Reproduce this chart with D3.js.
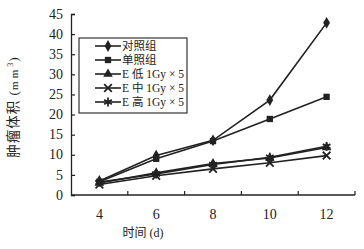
<!DOCTYPE html>
<html>
<head>
<meta charset="utf-8">
<script src="https://cdn.jsdelivr.net/npm/d3@7"></script>
<style>
  body { margin: 0; background: #fff; }
  svg { display: block; }
  text { font-family: "Liberation Serif", "Noto Sans CJK SC", serif; fill: #222; }
</style>
</head>
<body>
<div class="chart"></div>
<script>
// data
var days = [4, 6, 8, 10, 12];
var control = [3.5, 9.8, 13.6, 23.6, 42.8];
var single = [3.3, 9.0, 13.4, 18.9, 24.4];
var eLow = [3.0, 5.5, 7.8, 9.2, 11.8];
var eMid = [2.6, 4.8, 6.5, 8.0, 9.8];
var eHigh = [3.2, 5.2, 7.6, 9.4, 12.1];
var seriesNames = ["对照组", "单照组", "E 低 1Gy × 5", "E 中 1Gy × 5", "E 高 1Gy × 5"];
var yTicks = [0, 5, 10, 15, 20, 25, 30, 35, 40, 45];

var width = 364, height = 249;
var margin = { top: 14, right: 9, bottom: 54, left: 71 };

var svg = d3.select(".chart").append("svg")
    .attr("width", width)
    .attr("height", height);

var xScale = d3.scaleLinear()
    .domain([3, 13])
    .range([margin.left, width - margin.right]);

var yScale = d3.scaleLinear()
    .domain([0, 45])
    .range([height - margin.bottom, margin.top]);

var ink = "#222";

// y axis, ticks pointing inward
svg.append("g")
    .attr("transform", `translate(${margin.left},0)`)
    .call(d3.axisLeft(yScale).tickValues(yTicks).tickSize(-4).tickPadding(8))
    .call(g => g.select(".domain").attr("stroke", ink).attr("stroke-width", 1.3))
    .call(g => g.selectAll(".tick line").attr("stroke", ink).attr("stroke-width", 1.2))
    .call(g => g.selectAll(".tick text").attr("font-size", 14).attr("dy", "0.3em"));

// x axis: ticks between days, labels on the days
var xAxis = svg.append("g")
    .attr("transform", `translate(0,${height - margin.bottom})`);
xAxis.append("line")
    .attr("x1", xScale(3)).attr("x2", xScale(13))
    .attr("stroke", ink).attr("stroke-width", 1.3);
xAxis.selectAll(".tk")
    .data([5, 7, 9, 11, 13])
    .join("line")
    .attr("x1", d => xScale(d)).attr("x2", d => xScale(d))
    .attr("y1", 0).attr("y2", -4)
    .attr("stroke", ink).attr("stroke-width", 1.2);
xAxis.selectAll(".lbl")
    .data(days)
    .join("text")
    .attr("x", d => xScale(d))
    .attr("y", 24)
    .attr("text-anchor", "middle")
    .attr("font-size", 14)
    .text(d => d);

// axis titles
svg.append("text")
    .attr("transform", `translate(18,107) rotate(-90)`)
    .attr("text-anchor", "middle")
    .attr("font-size", 13.5)
    .attr("font-family", "Noto Sans CJK SC")
    .attr("letter-spacing", 1)
    .html('肿瘤体积 (<tspan font-size="11" letter-spacing="3">mm</tspan><tspan dy="-5" font-size="8">3</tspan><tspan dy="5">)</tspan>');

svg.append("text")
    .attr("x", 143)
    .attr("y", 237)
    .attr("text-anchor", "middle")
    .attr("font-size", 12)
    .attr("font-family", "Noto Sans CJK SC")
    .text("时间 (d)");

// series
var allSeries = [control, single, eLow, eMid, eHigh];
var symbols = [
    { type: d3.symbolDiamond, size: 40, stroke: false },
    { type: d3.symbolSquare, size: 40, stroke: false },
    { type: d3.symbolTriangle, size: 40, stroke: false },
    { type: d3.symbolX, size: 40, stroke: true },
    { type: d3.symbolAsterisk, size: 55, stroke: true }
];

var line = d3.line()
    .x((d, i) => xScale(days[i]))
    .y(d => yScale(d));

function drawMarker(g, s, x, y) {
    var p = g.append("path")
        .attr("transform", `translate(${x},${y})`)
        .attr("d", d3.symbol().type(s.type).size(s.size)());
    if (s.stroke) {
        p.attr("fill", "none").attr("stroke", ink).attr("stroke-width", 1.8);
    } else {
        p.attr("fill", ink);
    }
}

allSeries.forEach(function(vals, k) {
    svg.append("path")
        .datum(vals)
        .attr("d", line)
        .attr("fill", "none")
        .attr("stroke", ink)
        .attr("stroke-width", 1.6);
    var g = svg.append("g");
    vals.forEach(function(v, i) {
        drawMarker(g, symbols[k], xScale(days[i]), yScale(v));
    });
});

// legend
var legend = svg.append("g");
legend.append("rect")
    .attr("x", 79).attr("y", 38)
    .attr("width", 108).attr("height", 75)
    .attr("fill", "#fff")
    .attr("stroke", ink).attr("stroke-width", 1.1);

var legendY = d3.scalePoint().domain(d3.range(5)).range([46, 102]);
seriesNames.forEach(function(name, k) {
    var y = legendY(k);
    legend.append("line")
        .attr("x1", 95).attr("x2", 121)
        .attr("y1", y).attr("y2", y)
        .attr("stroke", ink).attr("stroke-width", 1.6);
    drawMarker(legend, symbols[k], 108, y);
    legend.append("text")
        .attr("x", 122)
        .attr("y", y)
        .attr("dy", "0.35em")
        .attr("font-size", 11.5)
        .text(name);
});
</script>
</body>
</html>
